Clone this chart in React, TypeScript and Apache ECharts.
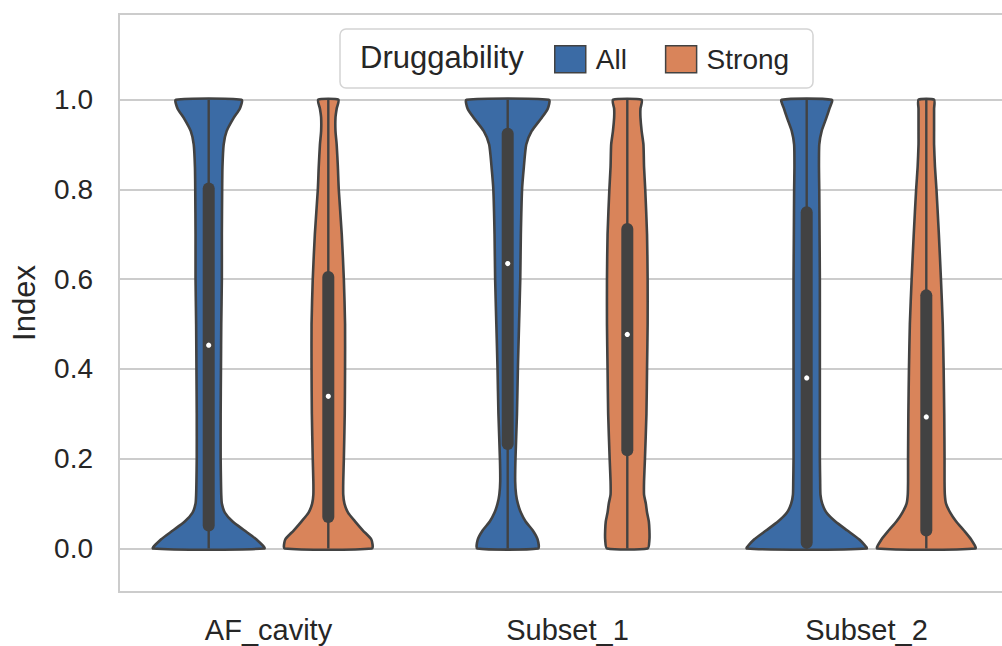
import React, { useEffect, useRef } from "react";
import * as echarts from "echarts";

const categories = ["AF_cavity", "Subset_1", "Subset_2"];
const hues = ["All", "Strong"];
const hueColors = ["#3b6ba5", "#d9845a"];
const yTicks = [0, 0.2, 0.4, 0.6, 0.8, 1.0];

// y positions at which the violin half-widths (kernel density) are read
const densityLevels = [0, 0.02, 0.04, 0.06, 0.08, 0.1, 0.12, 0.15, 0.2, 0.3, 0.4, 0.5, 0.6, 0.7, 0.8, 0.85, 0.9, 0.93, 0.96, 0.98, 1.0];

// relative density (half-width, 1 = full half-slot) per category
const densityAll = [
  [0.93, 0.8, 0.6, 0.4, 0.27, 0.22, 0.21, 0.205, 0.2, 0.2, 0.205, 0.21, 0.22, 0.22, 0.225, 0.23, 0.25, 0.3, 0.42, 0.52, 0.55],
  [0.51, 0.5, 0.42, 0.3, 0.22, 0.17, 0.14, 0.125, 0.13, 0.155, 0.17, 0.19, 0.21, 0.22, 0.24, 0.27, 0.31, 0.4, 0.57, 0.67, 0.69],
  [1.0, 0.88, 0.68, 0.48, 0.33, 0.26, 0.23, 0.225, 0.22, 0.22, 0.22, 0.22, 0.22, 0.215, 0.21, 0.205, 0.21, 0.25, 0.33, 0.38, 0.42],
];
const densityStrong = [
  [0.73, 0.72, 0.58, 0.45, 0.33, 0.27, 0.25, 0.25, 0.26, 0.275, 0.28, 0.28, 0.26, 0.225, 0.175, 0.16, 0.14, 0.12, 0.12, 0.14, 0.17],
  [0.34, 0.37, 0.37, 0.36, 0.33, 0.31, 0.28, 0.28, 0.295, 0.32, 0.33, 0.34, 0.34, 0.33, 0.3, 0.28, 0.27, 0.24, 0.22, 0.22, 0.24],
  [0.82, 0.75, 0.63, 0.5, 0.4, 0.33, 0.31, 0.305, 0.305, 0.3, 0.29, 0.275, 0.245, 0.21, 0.17, 0.145, 0.13, 0.13, 0.13, 0.13, 0.13],
];

// inner box statistics
const q1All = [0.051, 0.233, 0.013];
const q3All = [0.802, 0.924, 0.749];
const medianAll = [0.453, 0.635, 0.38];
const minAll = [0, 0, 0];
const maxAll = [1, 1, 1];

const q1Strong = [0.07, 0.219, 0.04];
const q3Strong = [0.605, 0.712, 0.564];
const medianStrong = [0.339, 0.477, 0.293];
const minStrong = [0, 0, 0];
const maxStrong = [1, 1, 1];

const densities = [densityAll, densityStrong];
const q1s = [q1All, q1Strong];
const q3s = [q3All, q3Strong];
const medians = [medianAll, medianStrong];
const mins = [minAll, minStrong];
const maxs = [maxAll, maxStrong];

const FONT = "'Liberation Sans', Arial, Helvetica, sans-serif";
const TEXT = "#262626";
const EDGE = "#424242";

function makeRenderItem(hueIdx: number) {
  return (params: any, api: any) => {
    const ci = api.value(0);
    const band = api.size([1, 0])[0];
    const center = api.coord([ci, 0])[0] + (hueIdx === 0 ? -0.2 : 0.2) * band;
    const scale = 0.2 * band;
    const dens = densities[hueIdx][ci];
    const right: number[][] = [];
    const left: number[][] = [];
    densityLevels.forEach((lv, k) => {
      const py = api.coord([ci, lv])[1];
      right.push([center + dens[k] * scale, py]);
      left.push([center - dens[k] * scale, py]);
    });
    const points = right.concat(left.reverse());
    const yMin = api.coord([ci, mins[hueIdx][ci]])[1];
    const yMax = api.coord([ci, maxs[hueIdx][ci]])[1];
    const yQ1 = api.coord([ci, q1s[hueIdx][ci]])[1];
    const yQ3 = api.coord([ci, q3s[hueIdx][ci]])[1];
    const yMed = api.coord([ci, medians[hueIdx][ci]])[1];
    return {
      type: "group",
      children: [
        {
          type: "polygon",
          shape: { points, smooth: 0.2 },
          style: { fill: hueColors[hueIdx], stroke: EDGE, lineWidth: 2.6, lineJoin: "round" },
        },
        {
          type: "line",
          shape: { x1: center, y1: yMin, x2: center, y2: yMax },
          style: { stroke: EDGE, lineWidth: 2.4 },
        },
        {
          type: "line",
          shape: { x1: center, y1: yQ1, x2: center, y2: yQ3 },
          style: { stroke: EDGE, lineWidth: 12, lineCap: "round" },
        },
        {
          type: "circle",
          shape: { cx: center, cy: yMed, r: 2.6 },
          style: { fill: "#ffffff" },
        },
      ],
    };
  };
}

export default function App() {
  const ref = useRef<HTMLDivElement>(null);
  useEffect(() => {
    if (!ref.current) return;
    const chart = echarts.init(ref.current, undefined, { renderer: "svg" });
    chart.setOption({
      animation: false,
      backgroundColor: "#ffffff",
      grid: {
        left: 119,
        top: 14,
        right: 0,
        bottom: 54,
        show: true,
        borderColor: "#cccccc",
        borderWidth: 2,
      },
      legend: {
        data: hues,
        left: 554,
        top: 45,
        padding: 0,
        icon: "rect",
        itemWidth: 31,
        itemHeight: 27,
        itemGap: 38,
        itemStyle: { borderColor: EDGE, borderWidth: 1.5 },
        textStyle: { fontSize: 28, color: TEXT, fontFamily: FONT, padding: [0, 0, 0, 5] },
        selectedMode: false,
        z: 6,
      },
      graphic: [
        {
          type: "rect",
          z: 1,
          shape: { x: 340, y: 29, width: 473, height: 59, r: 6 },
          style: { fill: "#ffffff", stroke: "#d4d4d4", lineWidth: 1.5 },
        },
        {
          type: "text",
          z: 6,
          x: 360,
          y: 57,
          style: {
            text: "Druggability",
            font: `31px ${FONT}`,
            fill: TEXT,
            verticalAlign: "middle",
            align: "left",
          },
        },
      ],
      xAxis: {
        type: "category",
        data: categories,
        boundaryGap: true,
        axisLine: { show: false },
        axisTick: { show: false },
        splitLine: { show: false },
        axisLabel: { fontSize: 29, color: TEXT, fontFamily: FONT, margin: 23 },
      },
      yAxis: {
        type: "value",
        min: -0.097,
        max: 1.191,
        name: "Index",
        nameLocation: "middle",
        nameGap: 79,
        nameRotate: 90,
        nameTextStyle: { fontSize: 31, color: TEXT, fontFamily: FONT },
        axisLine: { show: false },
        axisTick: { show: false },
        splitLine: { show: false },
        axisLabel: {
          customValues: yTicks,
          formatter: (v: number) => v.toFixed(1),
          fontSize: 28,
          color: TEXT,
          fontFamily: FONT,
          margin: 26,
        },
      },
      series: [
        {
          name: hues[0],
          type: "custom",
          z: 3,
          itemStyle: { color: hueColors[0] },
          renderItem: makeRenderItem(0),
          data: categories.map((_, i) => [i]),
          encode: { x: 0 },
          markLine: {
            silent: true,
            z: 1,
            symbol: ["none", "none"],
            label: { show: false },
            lineStyle: { color: "#cccccc", width: 2, type: "solid" },
            data: yTicks.map((v) => ({ yAxis: v })),
          },
        },
        {
          name: hues[1],
          type: "custom",
          z: 3,
          itemStyle: { color: hueColors[1] },
          renderItem: makeRenderItem(1),
          data: categories.map((_, i) => [i]),
          encode: { x: 0 },
        },
      ],
    });
    return () => chart.dispose();
  }, []);
  return (
    <div
      style={{
        position: "absolute",
        left: 0,
        top: 0,
        width: 1002,
        height: 646,
        overflow: "hidden",
        background: "#ffffff",
      }}
    >
      <div ref={ref} style={{ width: 1016, height: 646 }} />
    </div>
  );
}
